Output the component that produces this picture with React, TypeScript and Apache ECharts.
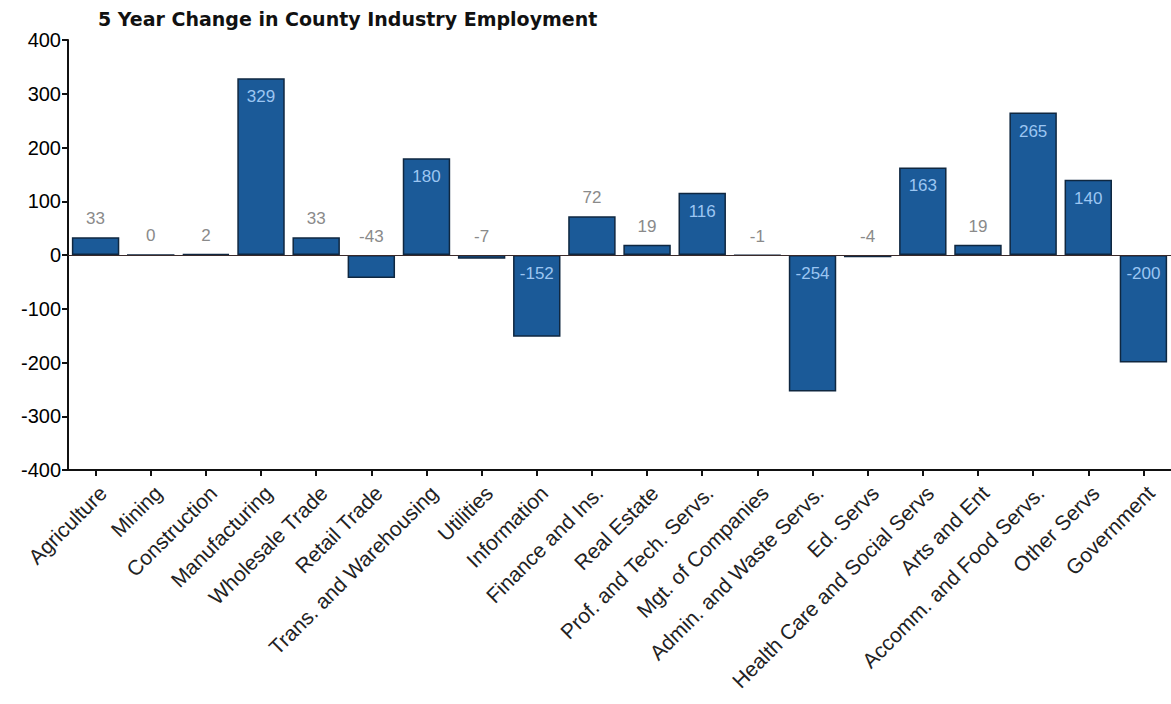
import React, { useEffect, useRef } from "react";
import * as echarts from "echarts";

const TITLE = "5 Year Change in County Industry Employment";

const categories: string[] = [
  "Agriculture",
  "Mining",
  "Construction",
  "Manufacturing",
  "Wholesale Trade",
  "Retail Trade",
  "Trans. and Warehousing",
  "Utilities",
  "Information",
  "Finance and Ins.",
  "Real Estate",
  "Prof. and Tech. Servs.",
  "Mgt. of Companies",
  "Admin. and Waste Servs.",
  "Ed. Servs",
  "Health Care and Social Servs",
  "Arts and Ent",
  "Accomm. and Food Servs.",
  "Other Servs",
  "Government",
];

const changes: number[] = [
  33, 0, 2, 329, 33, -43, 180, -7, -152, 72, 19, 116, -1, -254, -4, 163, 19, 265, 140, -200,
];

const yTicks = { min: -400, max: 400, interval: 100 };

export default function App() {
  const ref = useRef<HTMLDivElement>(null);

  useEffect(() => {
    if (!ref.current) return;
    const chart = echarts.init(ref.current, null, { renderer: "svg" });

    const data = changes.map((v) => {
      const inside = Math.abs(v) >= 100;
      return {
        value: v,
        label: inside
          ? {
              show: true,
              position: "insideTop",
              distance: 10,
              color: "#9cc6f2",
              fontSize: 17,
              fontFamily: "Liberation Sans, Arial, sans-serif",
            }
          : {
              show: true,
              position: "top",
              distance: 10,
              color: "#8a8a8a",
              fontSize: 17,
              fontFamily: "Liberation Sans, Arial, sans-serif",
            },
      };
    });

    chart.setOption({
      animation: false,
      backgroundColor: "#ffffff",
      title: {
        text: TITLE,
        left: 93,
        top: 4,
        textStyle: {
          fontFamily: "DejaVu Sans, Verdana, sans-serif",
          fontWeight: "bold",
          fontSize: 19,
          color: "#111",
        },
      },
      grid: { left: 68, right: -4, top: 40, bottom: 234, containLabel: false },
      xAxis: {
        type: "category",
        data: categories,
        axisLine: { onZero: false, lineStyle: { color: "#111", width: 2 } },
        axisTick: { show: true, alignWithLabel: true, length: 6, lineStyle: { color: "#111", width: 2 } },
        axisLabel: {
          interval: 0,
          rotate: 45,
          fontSize: 21,
          color: "#222",
          margin: 12,
          verticalAlign: "top",
          fontFamily: "Liberation Sans, Arial, sans-serif",
        },
      },
      yAxis: {
        type: "value",
        min: yTicks.min,
        max: yTicks.max,
        interval: yTicks.interval,
        splitLine: { show: false },
        axisLine: { show: true, lineStyle: { color: "#111", width: 2 } },
        axisTick: { show: true, length: 6, lineStyle: { color: "#111", width: 2 } },
        axisLabel: {
          fontSize: 20,
          color: "#000",
          margin: 7,
          fontFamily: "Liberation Sans, Arial, sans-serif",
        },
      },
      series: [
        {
          type: "bar",
          data,
          barWidth: "86%",
          itemStyle: { color: "#1b5a98", borderColor: "#0f2740", borderWidth: 1.5 },
          markLine: {
            symbol: "none",
            silent: true,
            label: { show: false },
            lineStyle: { color: "#3a2a2a", width: 1, type: "solid" },
            data: [{ yAxis: 0 }],
          },
        },
      ],
    });

    return () => chart.dispose();
  }, []);

  return (
    <div
      ref={ref}
      style={{ position: "absolute", left: 0, top: 0, width: 1171, height: 704 }}
    />
  );
}
